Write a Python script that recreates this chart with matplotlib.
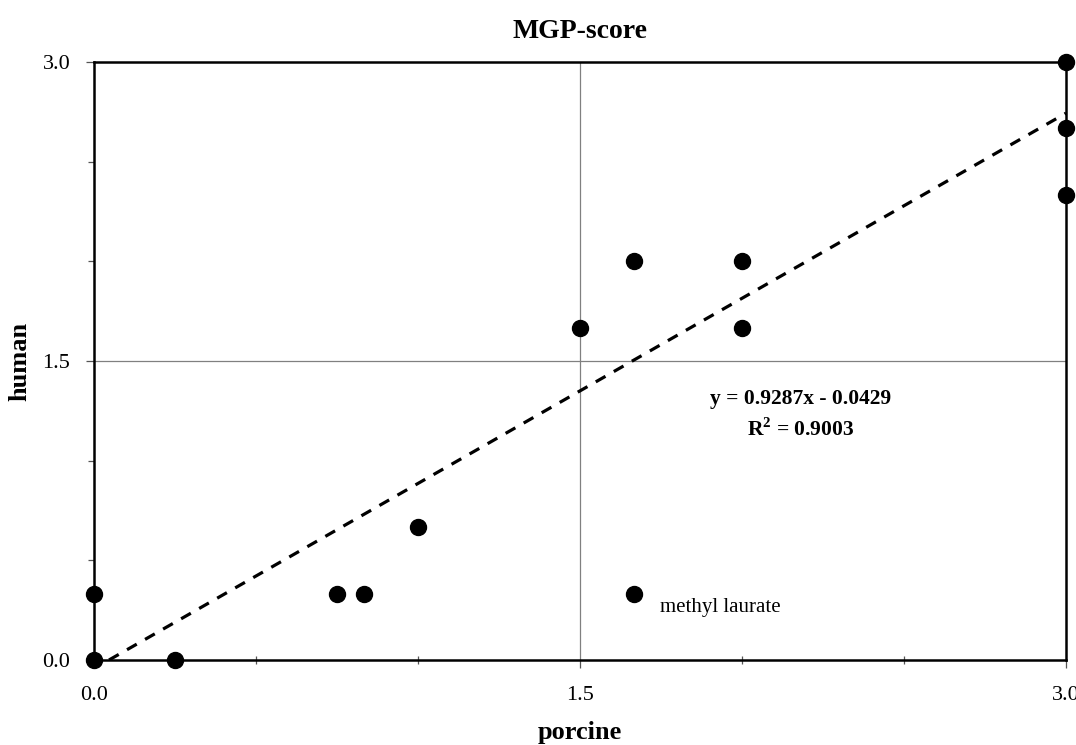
import numpy as np
import matplotlib
matplotlib.use("Agg")
import matplotlib.pyplot as plt
from matplotlib.ticker import MultipleLocator, FormatStrFormatter

# data
porcine = [0.0, 0.0, 0.25, 0.75, 0.833, 1.0, 1.5, 1.667, 1.667, 2.0, 2.0, 3.0, 3.0, 3.0]
human = [0.333, 0.0, 0.0, 0.333, 0.333, 0.667, 1.667, 2.0, 0.333, 2.0, 1.667, 3.0, 2.667, 2.333]
slope = 0.9287
intercept = -0.0429
r2 = 0.9003
label_point = (1.667, 0.333)
label_text = "methyl laurate"

plt.rcParams["font.family"] = ["Liberation Serif", "DejaVu Serif"]
plt.rcParams["mathtext.fontset"] = "custom"
plt.rcParams["mathtext.rm"] = "Liberation Serif"
plt.rcParams["mathtext.bf"] = "Liberation Serif:bold"

fig = plt.figure(figsize=(10.76, 7.45), dpi=100)
ax = fig.add_axes([0.0874, 0.1141, 0.9033, 0.8027])

ax.set_xlim(0, 3)
ax.set_ylim(0, 3)

# grid only at middle
ax.axvline(1.5, color="#808080", lw=0.9, zorder=1)
ax.axhline(1.5, color="#808080", lw=0.9, zorder=1)

# trendline
x0 = -intercept / slope
xs = np.array([x0, 3.0])
ax.plot(xs, slope * xs + intercept, color="black", lw=2.3,
        dashes=(3.5, 3), zorder=2)

ax.plot(porcine, human, "o", color="black", markersize=11.5,
        clip_on=False, zorder=4)

ax.text(label_point[0] + 0.08, label_point[1] - 0.07, label_text,
        fontsize=15, va="center", ha="left")

ax.text(2.18, 1.31, "y = %.4fx - %.4f" % (slope, -intercept),
        fontsize=15.5, fontweight="bold", ha="center", va="center")
ax.text(2.18, 1.155, r"R$^\mathbf{2}$ = %.4f" % r2,
        fontsize=15.5, fontweight="bold", ha="center", va="center")

ax.xaxis.set_major_locator(MultipleLocator(1.5))
ax.yaxis.set_major_locator(MultipleLocator(1.5))
ax.xaxis.set_minor_locator(MultipleLocator(0.5))
ax.yaxis.set_minor_locator(MultipleLocator(0.5))
ax.xaxis.set_major_formatter(FormatStrFormatter("%.1f"))
ax.yaxis.set_major_formatter(FormatStrFormatter("%.1f"))

ax.tick_params(which="major", direction="out", length=6, width=0.9,
               labelsize=16, color="#555555")
ax.tick_params(axis="x", which="major", pad=13)
ax.tick_params(axis="y", which="major", pad=11)
ax.tick_params(axis="x", which="minor", direction="inout", length=6,
               width=0.9, color="#555555")
ax.tick_params(axis="y", which="minor", direction="out", length=4,
               width=0.9, color="#555555")

for s in ax.spines.values():
    s.set_linewidth(1.8)

ax.set_title("MGP-score", fontsize=20, fontweight="bold", pad=17)
ax.set_xlabel("porcine", fontsize=19, fontweight="bold")
ax.set_ylabel("human", fontsize=19, fontweight="bold")
ax.xaxis.set_label_coords(0.5, -0.102)
ax.yaxis.set_label_coords(-0.064, 0.5)

fig.savefig("out.png", dpi=100)
